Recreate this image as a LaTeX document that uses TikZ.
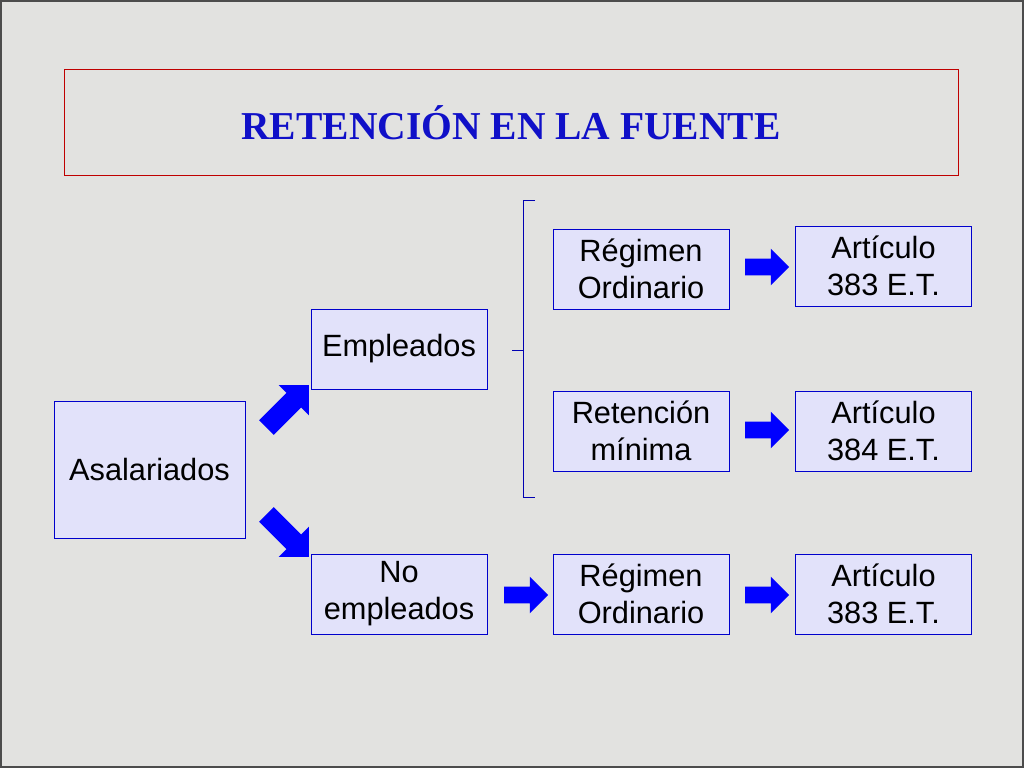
\documentclass[tikz,border=0pt]{standalone}
\usepackage{fontspec}
\setmainfont{Liberation Sans}
\newfontfamily\titlefont{Liberation Serif}
\usetikzlibrary{positioning, shapes.arrows}

\definecolor{slidebg}{RGB}{226,226,224}
\definecolor{boxfill}{RGB}{226,226,250}
\definecolor{titleblue}{RGB}{16,16,200}

\begin{document}
\begin{tikzpicture}[x=0.02cm, y=-0.02cm,
    every node/.style={font=\fontsize{17.5}{21}\selectfont},
    box/.style={draw=blue!80!black, fill=boxfill, align=center, inner sep=0pt,
      minimum width=3.52cm, minimum height=1.6cm},
    fat/.style={single arrow, fill=blue, draw=none, inner sep=0.16cm,
      minimum height=0.88cm, single arrow head extend=0.2cm}]
  % Background
  \fill[slidebg] (0,0) rectangle (1024,768);
  \draw[black!70, line width=1pt] (1,1) rectangle (1023,767);

  % Title
  \node[draw=red!75!black, minimum width=17.88cm, minimum height=2.12cm] (title) at (511,122) {};
  \node[font=\titlefont\bfseries\fontsize{22.5}{26}\selectfont, text=titleblue] (titletext) at (511,123) {RETENCIÓN EN LA FUENTE};

  % Boxes
  \node[box, minimum width=3.82cm, minimum height=2.74cm] (asal) at (149.5,469.5) {Asalariados};
  \node[box] (emp) at (399,349) {Empleados};
  \node[box] (noemp) at (399,594) {No\\empleados};
  \node[box] (regord) at (641,269) {Régimen\\Ordinario};
  \node[box] (retmin) at (641,431) {Retención\\mínima};
  \node[box] (regord2) at (641,594) {Régimen\\Ordinario};
  \node[box] (art1) at (883.5,266) {Artículo\\383 E.T.};
  \node[box] (art2) at (883.5,431) {Artículo\\384 E.T.};
  \node[box] (art3) at (883.5,594) {Artículo\\383 E.T.};

  % Brace
  \draw[blue!70!black] (535,200) -- (523,200) -- (523,497) -- (535,497)
    (523,350) -- (512,350);

  % Arrows
  \node[fat, rotate=45, minimum height=1.2cm, inner sep=0.2cm, single arrow head extend=0.22cm] (up) at (284,410) {};
  \node[fat, rotate=-45, minimum height=1.2cm, inner sep=0.2cm, single arrow head extend=0.22cm] (down) at (284,532) {};
  \node[fat] (a1) at (763,267) {};
  \node[fat] (a2) at (763,430) {};
  \node[fat] (a3) at (522,595) {};
  \node[fat] (a4) at (763,595) {};
\end{tikzpicture}
\end{document}
